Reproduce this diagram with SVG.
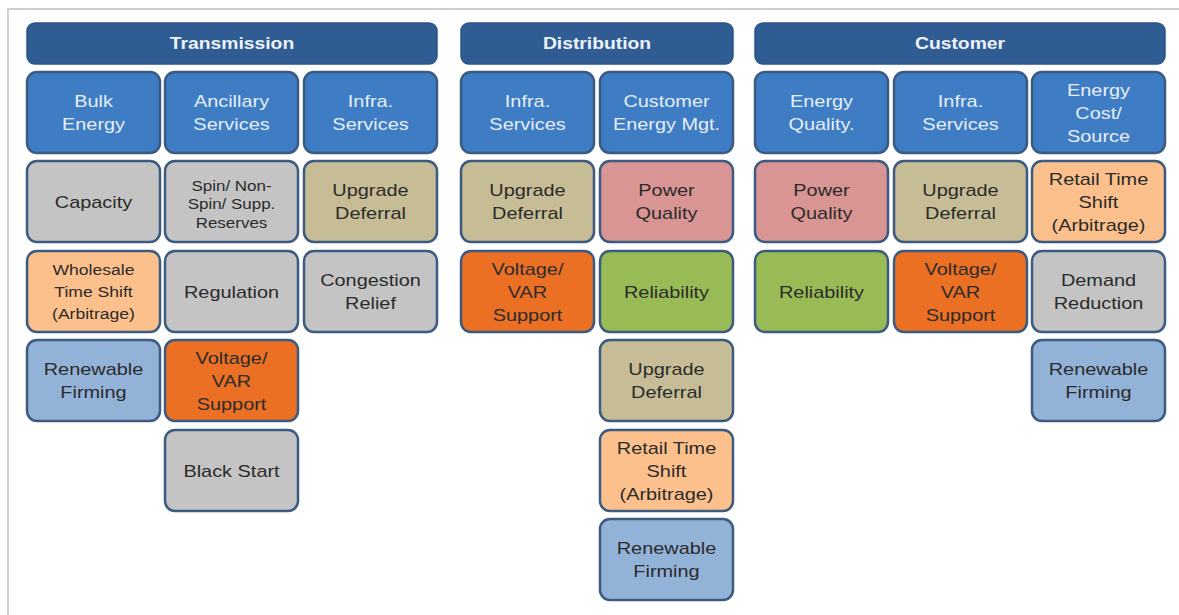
<svg xmlns="http://www.w3.org/2000/svg" width="1179" height="615" viewBox="0 0 1179 615">
<style>
  .hdr { fill: #2F5D93; stroke: #2A5485; stroke-width: 1.5; }
  .box { stroke: #3B5B80; stroke-width: 2.5; }
  .ttl { fill: #3E7CC4; }
  .gray { fill: #C4C4C4; }
  .tan { fill: #C6BC95; }
  .peach { fill: #FBC08C; }
  .pink { fill: #D99593; }
  .green { fill: #98BB55; }
  .orange { fill: #EB7024; }
  .lblue { fill: #93B2D8; }
  text { font-family: "Liberation Sans", Arial, sans-serif; text-anchor: middle; }
  .ht { font-size: 16.5px; font-weight: bold; fill: #EEF2F8; }
  .tt { font-size: 17px; fill: #E6EEF8; }
  .dt { font-size: 17px; fill: #2B2B2B; }
  .st { font-size: 15px; fill: #2B2B2B; }
  .xs { font-size: 14.5px; fill: #2B2B2B; }
  .frame { stroke: #CFCFCF; stroke-width: 2; fill: none; }
</style>
<rect x="0" y="0" width="1179" height="615" fill="#FFFFFF"/>
<path class="frame" d="M8 615 V9 H1179"/>
<g id="connectors"></g>

<!-- Headers -->
<g id="hdr-transmission"><rect class="hdr" x="27" y="23" width="410" height="41" rx="8"/><text class="ht" transform="translate(232 49.4) scale(1.17 1)">Transmission</text></g>
<g id="hdr-distribution"><rect class="hdr" x="461" y="23" width="272" height="41" rx="8"/><text class="ht" transform="translate(597 49.4) scale(1.17 1)">Distribution</text></g>
<g id="hdr-customer"><rect class="hdr" x="755" y="23" width="410" height="41" rx="8"/><text class="ht" transform="translate(960 49.4) scale(1.17 1)">Customer</text></g>

<!-- Transmission col 1 -->
<g id="t-bulk"><rect class="box ttl" x="27" y="72" width="133" height="81" rx="10"/><text class="tt" transform="translate(93.5 107.1) scale(1.17 1)"><tspan x="0">Bulk</tspan><tspan x="0" dy="23">Energy</tspan></text></g>
<g id="t-capacity"><rect class="box gray" x="27" y="161" width="133" height="81" rx="10"/><text class="dt" transform="translate(93.5 207.6) scale(1.17 1)">Capacity</text></g>
<g id="t-wholesale"><rect class="box peach" x="27" y="251" width="133" height="81" rx="10"/><text class="st" transform="translate(93.5 275) scale(1.17 1)"><tspan x="0">Wholesale</tspan><tspan x="0" dy="22">Time Shift</tspan><tspan x="0" dy="22">(Arbitrage)</tspan></text></g>
<g id="t-renewable"><rect class="box lblue" x="27" y="340" width="133" height="81" rx="10"/><text class="dt" transform="translate(93.5 375.1) scale(1.17 1)"><tspan x="0">Renewable</tspan><tspan x="0" dy="23">Firming</tspan></text></g>

<!-- Transmission col 2 -->
<g id="t-ancillary"><rect class="box ttl" x="165" y="72" width="133" height="81" rx="10"/><text class="tt" transform="translate(231.5 107.1) scale(1.17 1)"><tspan x="0">Ancillary</tspan><tspan x="0" dy="23">Services</tspan></text></g>
<g id="t-spin"><rect class="box gray" x="165" y="161" width="133" height="81" rx="10"/><text class="xs" transform="translate(231.5 191) scale(1.17 1)"><tspan x="0">Spin/ Non-</tspan><tspan x="0" dy="18.5">Spin/ Supp.</tspan><tspan x="0" dy="18.5">Reserves</tspan></text></g>
<g id="t-regulation"><rect class="box gray" x="165" y="251" width="133" height="81" rx="10"/><text class="dt" transform="translate(231.5 297.6) scale(1.17 1)">Regulation</text></g>
<g id="t-voltage"><rect class="box orange" x="165" y="340" width="133" height="81" rx="10"/><text class="dt" transform="translate(231.5 363.6) scale(1.17 1)"><tspan x="0">Voltage/</tspan><tspan x="0" dy="23">VAR</tspan><tspan x="0" dy="23">Support</tspan></text></g>
<g id="t-blackstart"><rect class="box gray" x="165" y="430" width="133" height="81" rx="10"/><text class="dt" transform="translate(231.5 476.6) scale(1.17 1)">Black Start</text></g>

<!-- Transmission col 3 -->
<g id="t-infra"><rect class="box ttl" x="304" y="72" width="133" height="81" rx="10"/><text class="tt" transform="translate(370.5 107.1) scale(1.17 1)"><tspan x="0">Infra.</tspan><tspan x="0" dy="23">Services</tspan></text></g>
<g id="t-upgrade"><rect class="box tan" x="304" y="161" width="133" height="81" rx="10"/><text class="dt" transform="translate(370.5 196.1) scale(1.17 1)"><tspan x="0">Upgrade</tspan><tspan x="0" dy="23">Deferral</tspan></text></g>
<g id="t-congestion"><rect class="box gray" x="304" y="251" width="133" height="81" rx="10"/><text class="dt" transform="translate(370.5 286.1) scale(1.17 1)"><tspan x="0">Congestion</tspan><tspan x="0" dy="23">Relief</tspan></text></g>

<!-- Distribution col 1 -->
<g id="d-infra"><rect class="box ttl" x="461" y="72" width="133" height="81" rx="10"/><text class="tt" transform="translate(527.5 107.1) scale(1.17 1)"><tspan x="0">Infra.</tspan><tspan x="0" dy="23">Services</tspan></text></g>
<g id="d-upgrade"><rect class="box tan" x="461" y="161" width="133" height="81" rx="10"/><text class="dt" transform="translate(527.5 196.1) scale(1.17 1)"><tspan x="0">Upgrade</tspan><tspan x="0" dy="23">Deferral</tspan></text></g>
<g id="d-voltage"><rect class="box orange" x="461" y="251" width="133" height="81" rx="10"/><text class="dt" transform="translate(527.5 274.6) scale(1.17 1)"><tspan x="0">Voltage/</tspan><tspan x="0" dy="23">VAR</tspan><tspan x="0" dy="23">Support</tspan></text></g>

<!-- Distribution col 2 -->
<g id="d-cem"><rect class="box ttl" x="600" y="72" width="133" height="81" rx="10"/><text class="tt" transform="translate(666.5 107.1) scale(1.17 1)"><tspan x="0">Customer</tspan><tspan x="0" dy="23">Energy Mgt.</tspan></text></g>
<g id="d-power"><rect class="box pink" x="600" y="161" width="133" height="81" rx="10"/><text class="dt" transform="translate(666.5 196.1) scale(1.17 1)"><tspan x="0">Power</tspan><tspan x="0" dy="23">Quality</tspan></text></g>
<g id="d-reliability"><rect class="box green" x="600" y="251" width="133" height="81" rx="10"/><text class="dt" transform="translate(666.5 297.6) scale(1.17 1)">Reliability</text></g>
<g id="d-upgrade2"><rect class="box tan" x="600" y="340" width="133" height="81" rx="10"/><text class="dt" transform="translate(666.5 375.1) scale(1.17 1)"><tspan x="0">Upgrade</tspan><tspan x="0" dy="23">Deferral</tspan></text></g>
<g id="d-retail"><rect class="box peach" x="600" y="430" width="133" height="81" rx="10"/><text class="dt" transform="translate(666.5 453.6) scale(1.17 1)"><tspan x="0">Retail Time</tspan><tspan x="0" dy="23">Shift</tspan><tspan x="0" dy="23">(Arbitrage)</tspan></text></g>
<g id="d-renewable"><rect class="box lblue" x="600" y="519" width="133" height="81" rx="10"/><text class="dt" transform="translate(666.5 554.1) scale(1.17 1)"><tspan x="0">Renewable</tspan><tspan x="0" dy="23">Firming</tspan></text></g>

<!-- Customer col 1 -->
<g id="c-eq"><rect class="box ttl" x="755" y="72" width="133" height="81" rx="10"/><text class="tt" transform="translate(821.5 107.1) scale(1.17 1)"><tspan x="0">Energy</tspan><tspan x="0" dy="23">Quality.</tspan></text></g>
<g id="c-power"><rect class="box pink" x="755" y="161" width="133" height="81" rx="10"/><text class="dt" transform="translate(821.5 196.1) scale(1.17 1)"><tspan x="0">Power</tspan><tspan x="0" dy="23">Quality</tspan></text></g>
<g id="c-reliability"><rect class="box green" x="755" y="251" width="133" height="81" rx="10"/><text class="dt" transform="translate(821.5 297.6) scale(1.17 1)">Reliability</text></g>

<!-- Customer col 2 -->
<g id="c-infra"><rect class="box ttl" x="894" y="72" width="133" height="81" rx="10"/><text class="tt" transform="translate(960.5 107.1) scale(1.17 1)"><tspan x="0">Infra.</tspan><tspan x="0" dy="23">Services</tspan></text></g>
<g id="c-upgrade"><rect class="box tan" x="894" y="161" width="133" height="81" rx="10"/><text class="dt" transform="translate(960.5 196.1) scale(1.17 1)"><tspan x="0">Upgrade</tspan><tspan x="0" dy="23">Deferral</tspan></text></g>
<g id="c-voltage"><rect class="box orange" x="894" y="251" width="133" height="81" rx="10"/><text class="dt" transform="translate(960.5 274.6) scale(1.17 1)"><tspan x="0">Voltage/</tspan><tspan x="0" dy="23">VAR</tspan><tspan x="0" dy="23">Support</tspan></text></g>

<!-- Customer col 3 -->
<g id="c-cost"><rect class="box ttl" x="1032" y="72" width="133" height="81" rx="10"/><text class="tt" transform="translate(1098.5 96) scale(1.17 1)"><tspan x="0">Energy</tspan><tspan x="0" dy="23">Cost/</tspan><tspan x="0" dy="23">Source</tspan></text></g>
<g id="c-retail"><rect class="box peach" x="1032" y="161" width="133" height="81" rx="10"/><text class="dt" transform="translate(1098.5 185) scale(1.17 1)"><tspan x="0">Retail Time</tspan><tspan x="0" dy="23">Shift</tspan><tspan x="0" dy="23">(Arbitrage)</tspan></text></g>
<g id="c-demand"><rect class="box gray" x="1032" y="251" width="133" height="81" rx="10"/><text class="dt" transform="translate(1098.5 286.1) scale(1.17 1)"><tspan x="0">Demand</tspan><tspan x="0" dy="23">Reduction</tspan></text></g>
<g id="c-renewable"><rect class="box lblue" x="1032" y="340" width="133" height="81" rx="10"/><text class="dt" transform="translate(1098.5 375.1) scale(1.17 1)"><tspan x="0">Renewable</tspan><tspan x="0" dy="23">Firming</tspan></text></g>
</svg>
